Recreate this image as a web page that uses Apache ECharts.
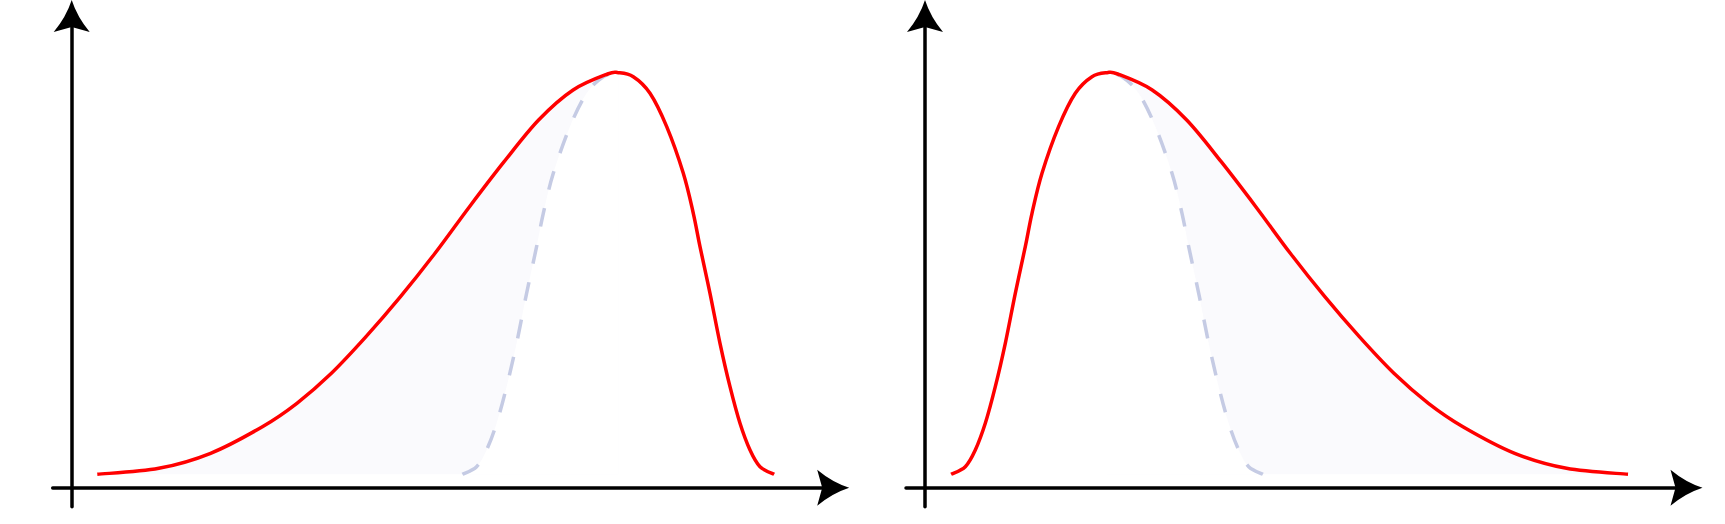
<!DOCTYPE html>
<html>
<head>
<meta charset="utf-8">
<script src="https://cdn.jsdelivr.net/npm/echarts@6/dist/echarts.min.js"></script>
<style>
html,body{margin:0;padding:0;background:#fff;}
#chart{width:1725px;height:524px;}
</style>
</head>
<body>
<div id="chart"></div>
<script>
const curveBase = 13.4;

// left panel: long left tail, steep right side
const leftSkewCurve = [
  [25.6,13.4],[87.1,19.4],[138.9,34.4],[190.7,61],[225.2,84.4],[259.7,114.4],
  [294.3,151],[328.8,191],[363.3,234.4],[397.8,281],[432.4,326],[466.9,367.7],
  [501.4,397.7],[535.9,413.7],[546.6,415],
  [561.6,411],[578.3,394.4],[595,361],[611.6,314.4],[621.6,274.4],[628.3,241],
  [638.3,194.4],[648.3,144.4],[658.3,101],[668.3,64.4],[678.3,37.7],[688.3,21],[702.5,13.4]
];
const leftPeakIndex = 14;
const leftMirrorCurve = [
  [390.7,13.4],[404.9,21],[414.9,37.7],[424.9,64.4],[434.9,101],[444.9,144.4],
  [454.9,194.4],[464.9,241],[471.6,274.4],[481.6,314.4],[498.2,361],[514.9,394.4],
  [531.6,411],[546.6,415]
];

// right panel: steep left side, long right tail
const rightSkewCurve = [
  [26.1,13.4],[40.3,21],[50.3,37.7],[60.3,64.4],[70.3,101],[80.3,144.4],[90.3,194.4],
  [100.3,241],[107,274.4],[117,314.4],[133.6,361],[150.3,394.4],[167,411],[182,415],
  [192.7,413.7],[227.2,397.7],[261.7,367.7],[296.2,326],[330.8,281],[365.3,234.4],
  [399.8,191],[434.3,151],[468.9,114.4],[503.4,84.4],[537.9,61],[589.7,34.4],
  [641.5,19.4],[703,13.4]
];
const rightPeakIndex = 13;
const rightMirrorCurve = [
  [337.9,13.4],[323.7,21],[313.7,37.7],[303.7,64.4],[293.7,101],[283.7,144.4],[273.7,194.4],
  [263.7,241],[257,274.4],[247,314.4],[230.4,361],[213.7,394.4],[197,411],[182,415]
];

// ---- styling ----
const arrowPath = 'path://M18 0 Q23.5 17 36 32 L18 27 L0 32 Q12.5 17 18 0 Z';
const fillColor = '#fafafd';
const dashColor = '#c5cbe4';
const redColor = '#ff0000';

function makeAxis(i, min, max) {
  return {
    type: 'value', gridIndex: i, min: min, max: max,
    axisLine: { show: true, onZero: true, symbol: ['none', arrowPath], symbolSize: [36, 32],
      lineStyle: { color: '#000', width: 3.5 } },
    axisTick: { show: false }, axisLabel: { show: false }, splitLine: { show: false }
  };
}

// smooth curve (Catmull-Rom -> cubic Bezier) through pixel points
function smoothPath(pts) {
  let d = 'M' + pts[0][0] + ' ' + pts[0][1];
  for (let k = 0; k < pts.length - 1; k++) {
    const p0 = pts[k - 1] || pts[k], p1 = pts[k], p2 = pts[k + 1], p3 = pts[k + 2] || pts[k + 1];
    const c1x = p1[0] + (p2[0] - p0[0]) / 6, c1y = p1[1] + (p2[1] - p0[1]) / 6;
    const c2x = p2[0] - (p3[0] - p1[0]) / 6, c2y = p2[1] - (p3[1] - p1[1]) / 6;
    d += ' C' + [c1x, c1y, c2x, c2y, p2[0], p2[1]].join(' ');
  }
  return d;
}

function curveSeries(i, data, kind, z) {
  return {
    type: 'custom', xAxisIndex: i, yAxisIndex: i, data: data, encode: { x: 0, y: 1 },
    z: z, silent: true, clip: false,
    renderItem: function (params, api) {
      if (params.dataIndexInside !== 0) return null;
      const n = params.dataInsideLength;
      const pts = [];
      for (let j = 0; j < n; j++) pts.push(api.coord([api.value(0, j), api.value(1, j)]));
      let d = smoothPath(pts);
      let style;
      if (kind === 'fill' || kind === 'mask') {
        const baseY = api.coord([0, curveBase])[1];
        d += ' L' + pts[n - 1][0] + ' ' + baseY + ' L' + pts[0][0] + ' ' + baseY + ' Z';
        style = { fill: kind === 'fill' ? fillColor : '#ffffff', stroke: null, lineWidth: 0 };
      } else if (kind === 'dash') {
        style = { fill: null, stroke: dashColor, lineWidth: 3.5, lineDash: [19, 19], lineCap: 'butt' };
      } else {
        style = { fill: null, stroke: redColor, lineWidth: 3.5, lineCap: 'butt', lineJoin: 'round' };
      }
      return { type: 'path', shape: { pathData: d }, style: style };
    }
  };
}

function panelSeries(i, skew, mirror, fillPart) {
  return [
    curveSeries(i, fillPart, 'fill', 1),
    curveSeries(i, mirror, 'mask', 2),
    curveSeries(i, mirror, 'dash', 3),
    curveSeries(i, skew, 'line', 4)
  ];
}

const chart = echarts.init(document.getElementById('chart'), null, { renderer: 'svg' });
chart.setOption({
  animation: false,
  backgroundColor: '#ffffff',
  grid: [
    { left: 52.7, top: 16, width: 780.5, height: 490.7, outerBoundsMode: 'none', containLabel: false },
    { left: 906, top: 16, width: 780.5, height: 490.7, outerBoundsMode: 'none', containLabel: false }
  ],
  xAxis: [makeAxis(0, -19, 761.5), makeAxis(1, -19, 761.5)],
  yAxis: [makeAxis(0, -19, 471.7), makeAxis(1, -19, 471.7)],
  series: [].concat(
    panelSeries(0, leftSkewCurve, leftMirrorCurve, leftSkewCurve.slice(0, leftPeakIndex + 1)),
    panelSeries(1, rightSkewCurve, rightMirrorCurve, rightSkewCurve.slice(rightPeakIndex))
  )
});
</script>
</body>
</html>
